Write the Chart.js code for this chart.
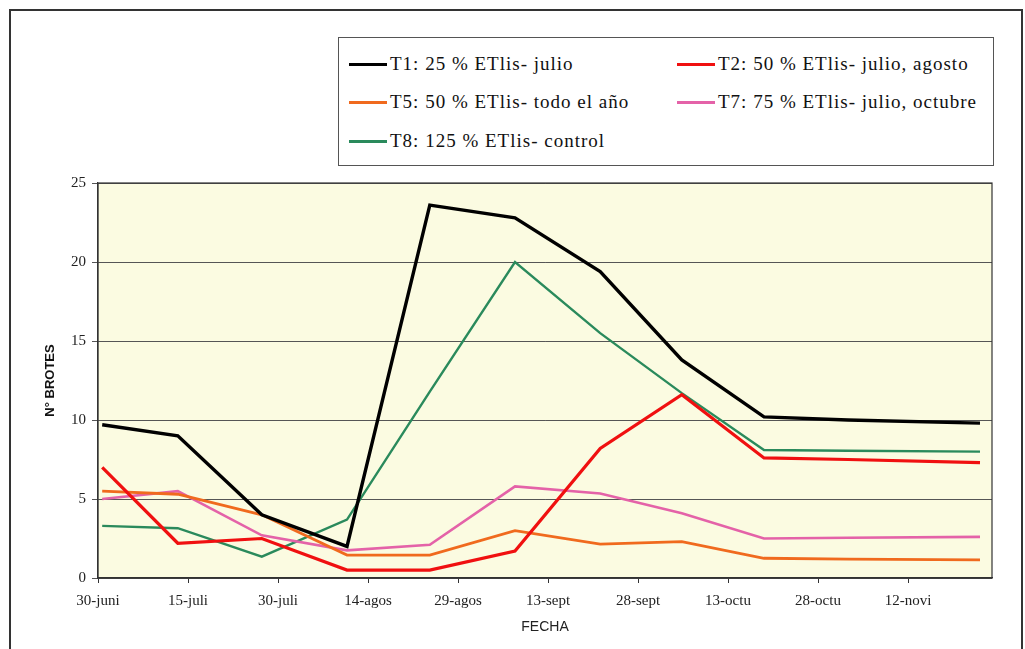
<!DOCTYPE html>
<html>
<head>
<meta charset="utf-8">
<script src="https://cdn.jsdelivr.net/npm/chart.js@4"></script>
<style>
  body { margin: 0; background: #fff; }
  #wrap { position: relative; width: 1025px; height: 649px; overflow: hidden; }
  #frame { position: absolute; left: 9px; top: 9px; width: 1010px; height: 700px; border: 2px solid #333; }
  #legend {
    position: absolute; left: 338px; top: 37px; width: 654px; height: 127px;
    border: 1px solid #555; background: #fff;
    font-family: "Liberation Serif", "Times New Roman", serif; font-size: 19px; letter-spacing: 1px; color: #111;
  }
  .item { position: absolute; display: flex; align-items: center; white-space: nowrap; }
  .item span.swatch { display: inline-block; width: 38px; height: 3px; margin-right: 3px; }
</style>
</head>
<body>
<div id="wrap">
  <div id="frame"></div>
  <canvas id="chart" width="1025" height="649"></canvas>
  <div id="legend"></div>
</div>
<script>
// days after 30-juni
const days = [0.7, 13.3, 27.3, 41.5, 55.3, 69.5, 83.7, 97.3, 111, 125, 147];

const t1 = [9.7, 9.0, 4.0, 2.0, 23.6, 22.8, 19.4, 13.8, 10.2, 10.0, 9.8];
const t2 = [7.0, 2.2, 2.5, 0.5, 0.5, 1.7, 8.2, 11.6, 7.6, 7.5, 7.3];
const t5 = [5.5, 5.3, 4.0, 1.45, 1.45, 3.0, 2.15, 2.3, 1.25, 1.2, 1.15];
const t7 = [5.0, 5.5, 2.7, 1.75, 2.1, 5.8, 5.35, 4.1, 2.5, 2.55, 2.6];
const t8 = [3.3, 3.15, 1.35, 3.7, 11.8, 20.0, 15.5, 11.7, 8.1, 8.05, 8.0];

const tickDays = [0, 15, 30, 45, 60, 75, 90, 105, 120, 135];
const tickLabels = ['30-juni', '15-juli', '30-juli', '14-agos', '29-agos', '13-sept', '28-sept', '13-octu', '28-octu', '12-novi'];

const seriesNames = [
  'T1: 25 % ETlis- julio',
  'T2: 50 % ETlis- julio, agosto',
  'T5: 50 % ETlis- todo el año',
  'T7: 75 % ETlis- julio, octubre',
  'T8: 125 % ETlis- control'
];
const seriesColors = ['#000000', '#f01010', '#f06a1e', '#e462a8', '#2a8a5c'];
const seriesWidths = [3.4, 3.2, 2.8, 2.6, 2.4];
const seriesValues = [t1, t2, t5, t7, t8];

const serif = '"Liberation Serif", "Times New Roman", serif';

const plotBg = {
  id: 'plotBg',
  beforeDraw(chart) {
    let c = chart.ctx, a = chart.chartArea;
    c.save();
    c.fillStyle = '#fbfbe1';
    c.fillRect(a.left, a.top, a.right - a.left, a.bottom - a.top);
    c.restore();
  },
  afterDraw(chart) {
    let c = chart.ctx, a = chart.chartArea;
    c.save();
    c.strokeStyle = '#333';
    c.lineWidth = 1.2;
    c.strokeRect(a.left, a.top, a.right - a.left, a.bottom - a.top);
    c.restore();
  }
};

const chart = new Chart(document.getElementById('chart'), {
  type: 'line',
  data: {
    datasets: seriesNames.map((name, i) => ({
      label: name,
      data: seriesValues[i].map((v, j) => ({ x: days[j], y: v })),
      borderColor: seriesColors[i],
      backgroundColor: seriesColors[i],
      borderWidth: seriesWidths[i],
      pointRadius: 0,
      tension: 0,
      fill: false
    }))
  },
  options: {
    responsive: false,
    animation: false,
    layout: { padding: { left: 40, top: 183, right: 33, bottom: 0 } },
    plugins: {
      legend: { display: false },
      tooltip: { enabled: false }
    },
    scales: {
      x: {
        type: 'linear',
        min: 0,
        max: 149,
        afterBuildTicks: (scale) => { scale.ticks = tickDays.map(v => ({ value: v })); },
        afterFit: (scale) => { scale.height = 71; },
        grid: { drawOnChartArea: false, drawTicks: true, tickLength: 5, color: '#333' },
        border: { color: '#333', width: 1.2 },
        ticks: {
          autoSkip: false,
          maxRotation: 0,
          padding: 9,
          color: '#222',
          font: { family: serif, size: 15 },
          callback: (v) => tickLabels[tickDays.indexOf(v)]
        },
        title: {
          display: true,
          text: 'FECHA',
          color: '#222',
          font: { family: 'Arial, "Liberation Sans", sans-serif', size: 14 },
          padding: { top: 0, bottom: 13 }
        }
      },
      y: {
        min: 0,
        max: 25,
        afterFit: (scale) => { scale.width = 58; },
        grid: { color: '#555', lineWidth: 1, tickLength: 6 },
        border: { color: '#333', width: 1.2 },
        ticks: {
          stepSize: 5,
          padding: 6,
          color: '#222',
          font: { family: serif, size: 15 }
        },
        title: {
          display: true,
          text: 'N° BROTES',
          color: '#111',
          font: { family: 'Arial, "Liberation Sans", sans-serif', size: 13, weight: 'bold' },
          padding: { top: 3, bottom: 0 }
        }
      }
    }
  },
  plugins: [plotBg]
});

// legend box, two columns like the original
const legendPos = [[10, 26], [338, 26], [10, 64], [338, 64], [10, 103]];
const $legend = document.getElementById('legend');
chart.data.datasets.forEach((ds, i) => {
  let item = document.createElement('div');
  item.className = 'item';
  item.style.left = legendPos[i][0] + 'px';
  item.style.top = (legendPos[i][1] - 12) + 'px';
  item.style.height = '24px';
  let sw = document.createElement('span');
  sw.className = 'swatch';
  sw.style.background = ds.borderColor;
  item.appendChild(sw);
  item.appendChild(document.createTextNode(ds.label));
  $legend.appendChild(item);
});
</script>
</body>
</html>
